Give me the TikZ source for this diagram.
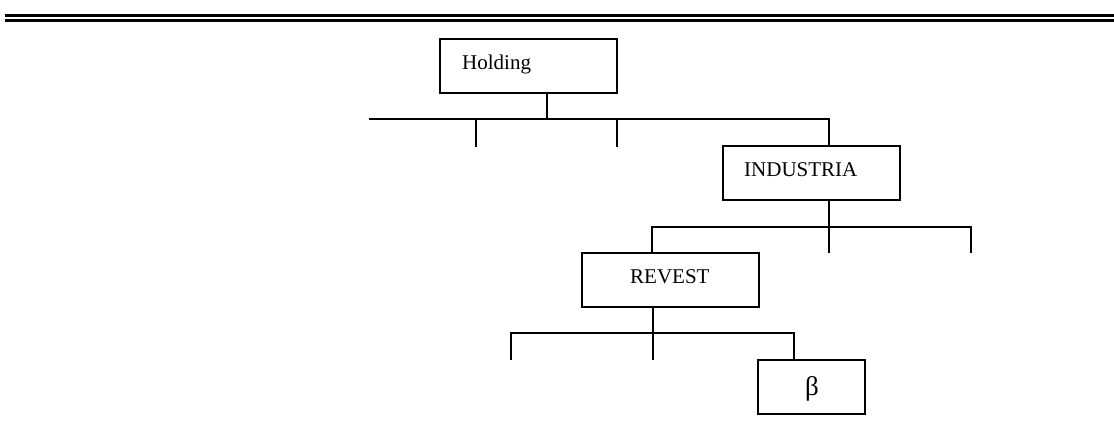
\documentclass[tikz,border=0pt]{standalone}
\usepackage{fontspec}
\setmainfont{Liberation Serif}
\usetikzlibrary{calc}
\begin{document}
\begin{tikzpicture}[x=1pt,y=-1pt,
  orgbox/.style={draw=black, line width=2pt, rectangle, inner sep=0pt},
  lbl/.style={inner sep=0pt, anchor=base west, font=\fontsize{21}{25}\selectfont},
  wire/.style={draw=black, line width=2pt},
  rule/.style={draw=black, line width=3pt}]
\useasboundingbox (0,0) rectangle (1114,421);

% header rule
\coordinate (r1a) at (5,15.7);   \coordinate (r1b) at (1114,15.7);
\coordinate (r2a) at (5,20.7);   \coordinate (r2b) at (1114,20.7);
\draw[rule] (r1a) -- (r1b);
\draw[rule] (r2a) -- (r2b);

% boxes
\node[orgbox, minimum width=177pt, minimum height=54pt] (hold) at (528.5,66) {};
\node[orgbox, minimum width=177pt, minimum height=54pt] (ind)  at (811.5,173) {};
\node[orgbox, minimum width=177pt, minimum height=54pt] (rev)  at (670.5,280) {};
\node[orgbox, minimum width=107pt, minimum height=54pt] (beta) at (811.5,387) {};

% labels
\node[lbl] (tHold) at (462,69) {Holding};
\node[lbl] (tInd)  at (744,176.5) {INDUSTRIA};
\node[lbl] (tRev)  at (630,283) {REVEST};
\node[inner sep=0pt, font=\fontsize{27}{30}\selectfont] (tBeta) at (812,389) {β};

% level 1
\coordinate (h0) at (547,93);
\coordinate (b1) at (547,119);
\coordinate (b1l) at (369,119);
\coordinate (b1r) at (829,119);
\coordinate (d1a) at (476,119);  \coordinate (e1a) at (476,147);
\coordinate (d1b) at (617,119);  \coordinate (e1b) at (617,147);
\coordinate (i0) at (829,146);
\draw[wire] (h0) -- (b1);
\draw[wire] (b1l) -- (b1r) -- (i0);
\draw[wire] (d1a) -- (e1a);
\draw[wire] (d1b) -- (e1b);

% level 2
\coordinate (i1) at (829,200);
\coordinate (b2) at (829,227);
\coordinate (b2l) at (652,227);
\coordinate (b2r) at (971,227);
\coordinate (r0) at (652,253);
\coordinate (e2b) at (829,253);
\coordinate (e2c) at (971,253);
\draw[wire] (i1) -- (b2);
\draw[wire] (r0) -- (b2l) -- (b2r) -- (e2c);
\draw[wire] (b2) -- (e2b);

% level 3
\coordinate (r1) at (653,307);
\coordinate (b3) at (653,333);
\coordinate (b3l) at (511,333);
\coordinate (b3r) at (794,333);
\coordinate (e3a) at (511,360);
\coordinate (e3b) at (653,360);
\coordinate (k0) at (794,360);
\draw[wire] (r1) -- (b3);
\draw[wire] (e3a) -- (b3l) -- (b3r) -- (k0);
\draw[wire] (b3) -- (e3b);
\end{tikzpicture}
\end{document}
